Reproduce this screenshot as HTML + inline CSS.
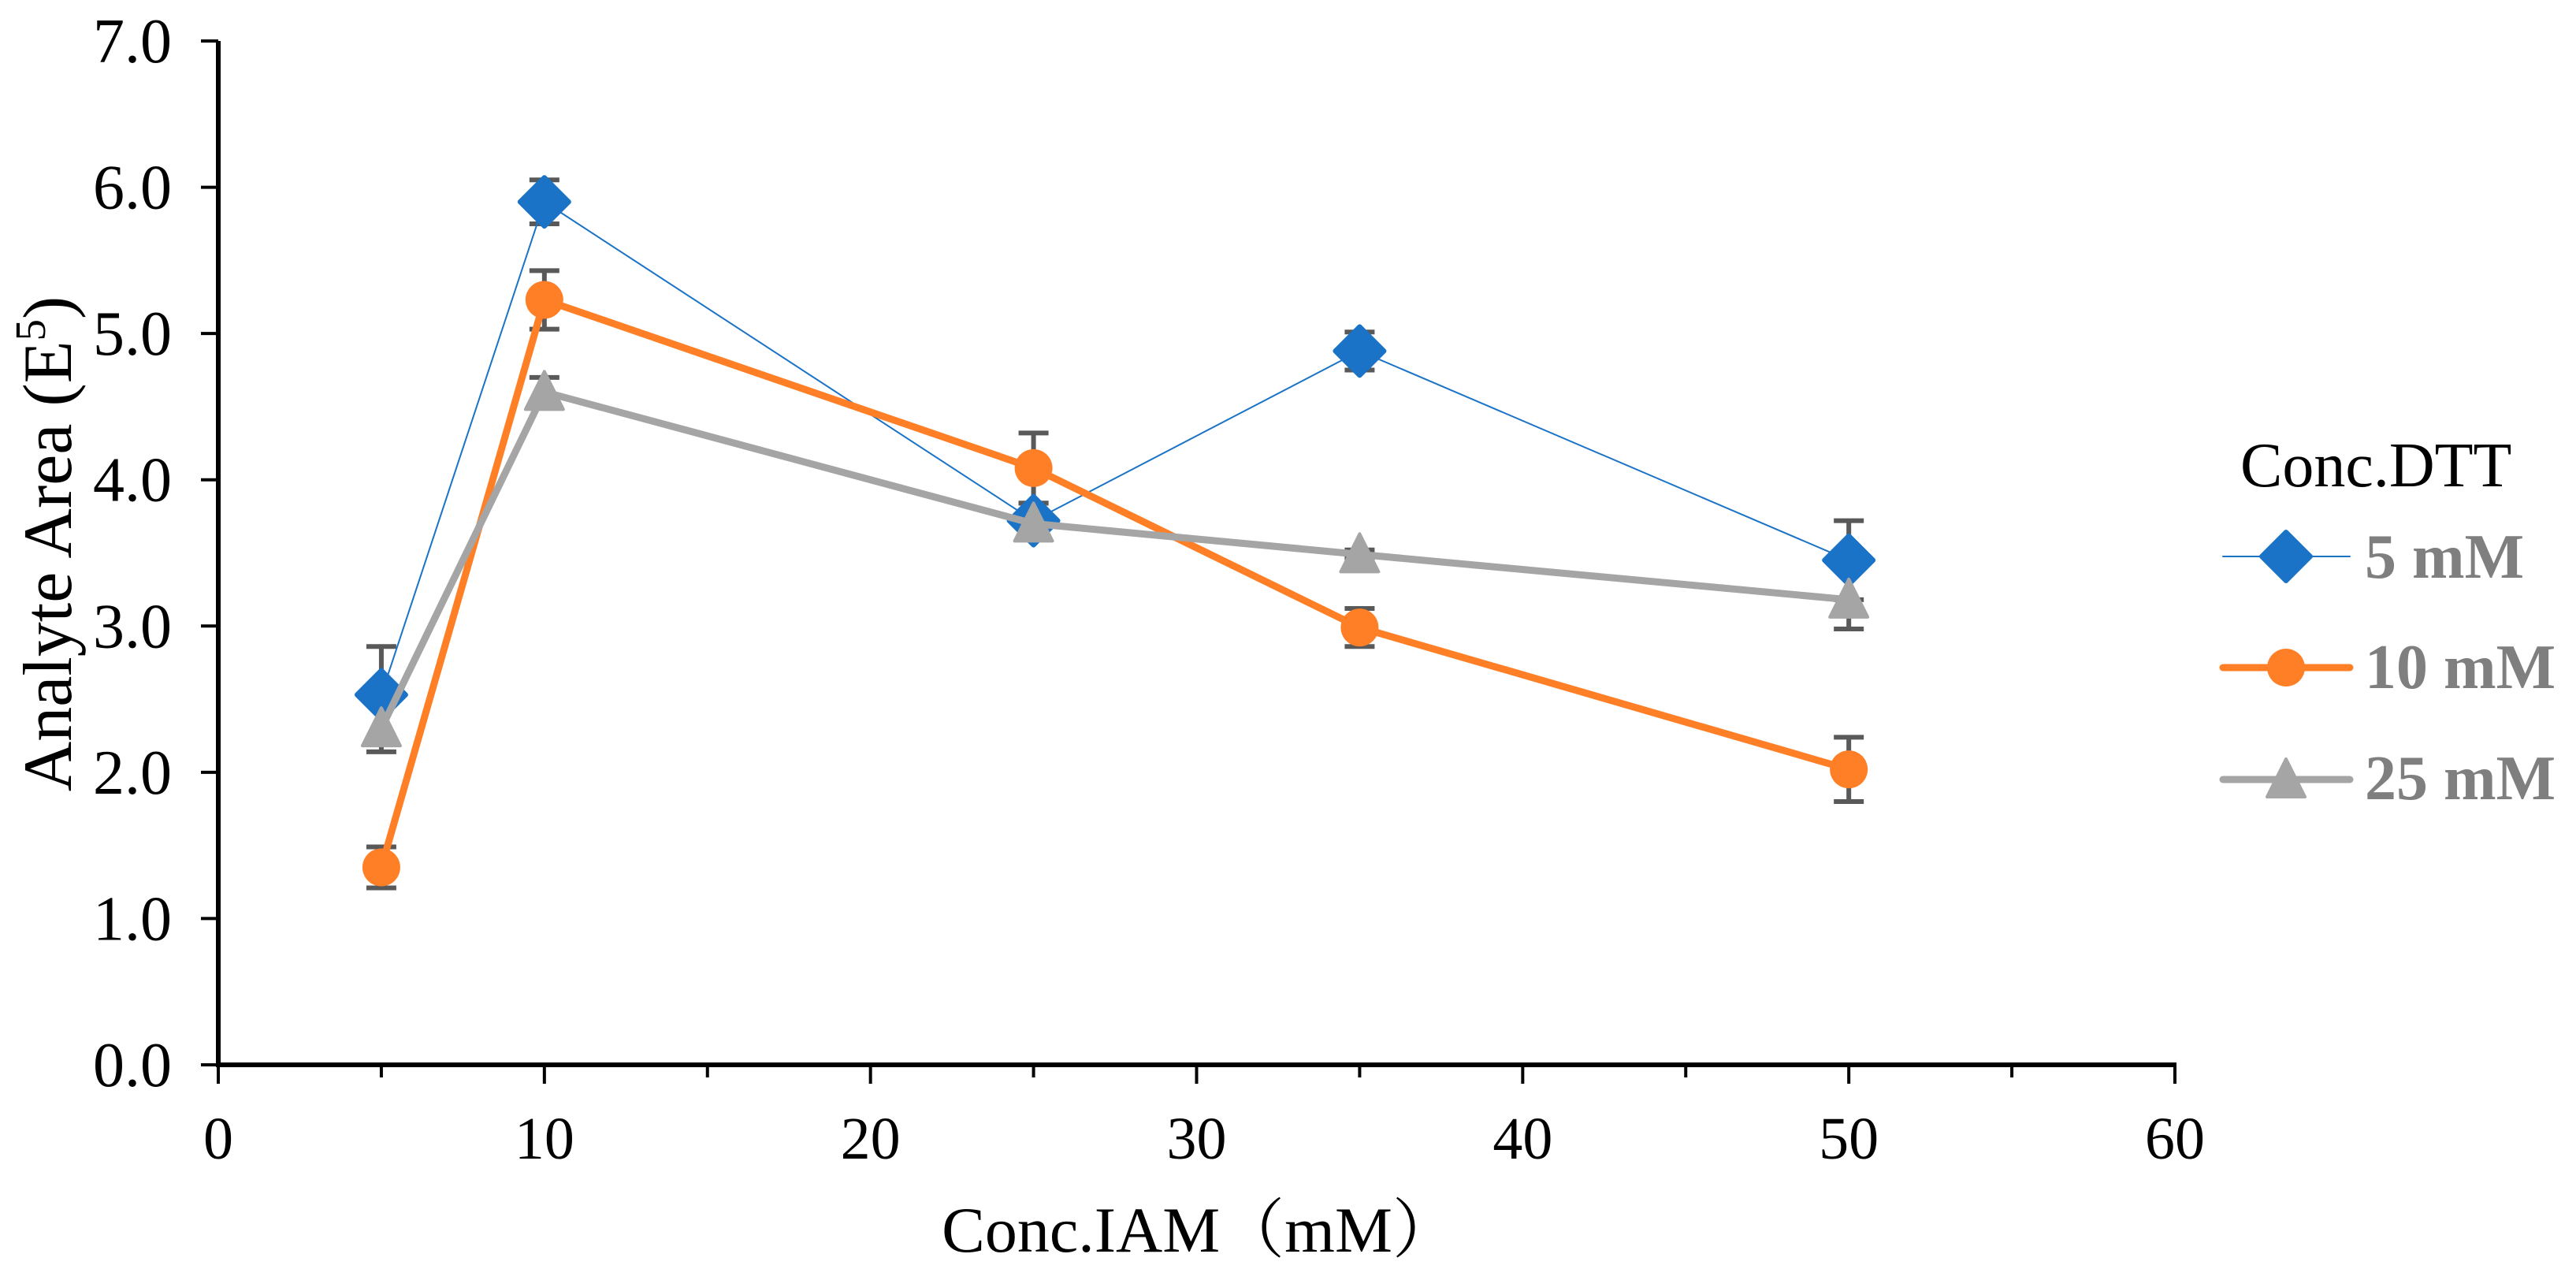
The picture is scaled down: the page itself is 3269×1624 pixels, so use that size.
<!DOCTYPE html>
<html><head><meta charset="utf-8"><style>
html,body{margin:0;padding:0;background:#fff;}
svg{display:block;font-family:"Liberation Serif","Noto Serif CJK SC",serif;}
</style></head><body>
<svg id="chart" width="3269" height="1624" viewBox="0 0 3269 1624" xmlns="http://www.w3.org/2000/svg">
<g id="grid"></g><g id="series"></g><g id="axes"></g>
</svg>
<script>
const xValues=[5,10,25,35,50];
const blueY=[2.53,5.9,3.72,4.88,3.45];
const blueErr=[0.33,0.15,0.12,0.13,0.27];
const orangeY=[1.35,5.23,4.08,2.99,2.02];
const orangeErr=[0.14,0.2,0.24,0.13,0.22];
const grayY=[2.3,4.6,3.7,3.49,3.18];
const grayErr=[0.16,0.1,0.05,0.03,0.2];
const yTicks=["0.0","1.0","2.0","3.0","4.0","5.0","6.0","7.0"];
const xTicks=["0","10","20","30","40","50","60"];
const legendLabels=["5 mM","10 mM","25 mM"];

const NS="http://www.w3.org/2000/svg";
const X0=277,X1=2760,Y0=1351,Y1=52;
const sx=v=>X0+(v/60)*(X1-X0);
const sy=v=>Y0-(v/7)*(Y0-Y1);
function mk(tag,attrs,parent,text){const e=document.createElementNS(NS,tag);for(const k in attrs)e.setAttribute(k,attrs[k]);if(text!==undefined)e.textContent=text;parent.appendChild(e);return e;}
const svg=document.getElementById('chart');
const S=document.getElementById('series'),A=document.getElementById('axes');

let e=mk('line',{x1:X0,y1:Y1,x2:X0,y2:Y0+3,stroke:'#000','stroke-width':6},A);

e=mk('line',{x1:X0-3,y1:Y0,x2:X1+2,y2:Y0,stroke:'#000','stroke-width':6},A);

yTicks.forEach((t,i)=>{const v=parseFloat(t);
 e=mk('line',{x1:X0-22,y1:sy(v),x2:X0,y2:sy(v),stroke:'#000','stroke-width':4},A);
 
 e=mk('text',{x:218,y:sy(v)+27,'text-anchor':'end','font-size':80,fill:'#000'},A,t);
 
});
for(let v=0;v<=60;v+=5){const major=v%10===0;
 e=mk('line',{x1:sx(v),y1:Y0,x2:sx(v),y2:Y0+(major?24:16),stroke:'#000','stroke-width':4},A);
 }
xTicks.forEach(t=>{const v=parseFloat(t);
 e=mk('text',{x:sx(v),y:1470,'text-anchor':'middle','font-size':76,fill:'#000'},A,t);
 });
e=mk('text',{x:1522,y:1588,'text-anchor':'middle','font-size':82,fill:'#000'},A,'Conc.IAM（mM）');

e=mk('text',{x:0,y:0,'text-anchor':'middle','font-size':88,fill:'#000',transform:'translate(90,690) rotate(-90)'},A);

mk('tspan',{},e,'Analyte Area (E');mk('tspan',{'font-size':55,dy:-33},e,'5');mk('tspan',{dy:33},e,')');

function marker(shape,x,y,color,g){
 let m;
 if(shape==='diamond')m=mk('polygon',{points:`${x},${y-31} ${x+31},${y} ${x},${y+31} ${x-31},${y}`,fill:color,stroke:color,'stroke-width':6,'stroke-linejoin':'round'},g);
 else if(shape==='circle')m=mk('circle',{cx:x,cy:y,r:24,fill:color},g);
 else m=mk('polygon',{points:`${x},${y-26} ${x+24},${y+22} ${x-24},${y+22}`,fill:color,stroke:color,'stroke-width':4,'stroke-linejoin':'round'},g);
 return m;}
const series=[
 {name:'5mm',ys:blueY,err:blueErr,color:'#1a73c6',w:2,shape:'diamond'},
 {name:'10mm',ys:orangeY,err:orangeErr,color:'#ff7f27',w:9,shape:'circle'},
 {name:'25mm',ys:grayY,err:grayErr,color:'#a5a5a5',w:9,shape:'triangle'}];
series.forEach(s=>{s.ys.forEach((v,i)=>{const x=sx(xValues[i]);
 const g=mk('g',{stroke:'#595959','stroke-width':6},S);
 
 mk('line',{x1:x,y1:sy(v+s.err[i]),x2:x,y2:sy(v-s.err[i])},g);
 mk('line',{x1:x-19,y1:sy(v+s.err[i]),x2:x+19,y2:sy(v+s.err[i])},g);
 mk('line',{x1:x-19,y1:sy(v-s.err[i]),x2:x+19,y2:sy(v-s.err[i])},g);});});
series.forEach(s=>{
 const p=mk('polyline',{points:s.ys.map((v,i)=>sx(xValues[i])+','+sy(v)).join(' '),fill:'none',stroke:s.color,'stroke-width':s.w,'stroke-linejoin':'round'},S);
 
 s.ys.forEach((v,i)=>{const m=marker(s.shape,sx(xValues[i]),sy(v),s.color,S);
  });});

const L=mk('g',{},svg);

e=mk('text',{x:2843,y:617,'font-size':80,fill:'#000'},L,'Conc.DTT');

const ly=[706,847,989],lb=[733,873,1014];
series.forEach((s,i)=>{
 const g=mk('g',{},L);
 
 mk('line',{x1:2821,y1:ly[i],x2:2982,y2:ly[i],stroke:s.color,'stroke-width':s.w,'stroke-linecap':'round'},g);
 marker(s.shape,2901,ly[i],s.color,g);
 mk('text',{x:3001,y:lb[i],'font-size':80,'font-weight':'bold',fill:'#7f7f7f'},g,legendLabels[i]);});
</script>
</body></html>
